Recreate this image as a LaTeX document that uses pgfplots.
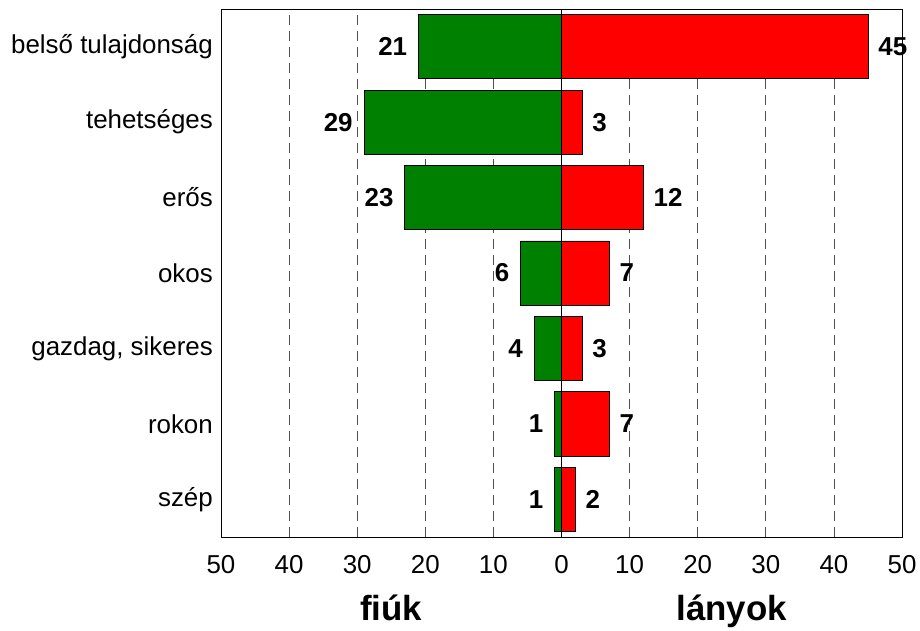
\documentclass[border=0pt]{standalone}
\usepackage{fontspec}
\setmainfont{Liberation Sans}
\usepackage{pgfplots}
\pgfplotsset{compat=1.18}
\definecolor{barGreen}{HTML}{008000}
\definecolor{barRed}{HTML}{FF0000}
\definecolor{gridGray}{HTML}{505050}
\begin{document}
\begin{tikzpicture}
\begin{axis}[
  scale only axis,
  width=681bp, height=528bp,
  xmin=-50, xmax=50, ymin=-0.5, ymax=6.5,
  xbar, bar width=0.85, bar shift=0pt,
  axis line style={black, line width=0.8pt},
  major tick length=0pt,
  xtick={-50,-40,...,50},
  xticklabels={50,40,30,20,10,0,10,20,30,40,50},
  ytick={0,1,2,3,4,5,6},
  yticklabels={szép,rokon,{gazdag, sikeres},okos,erős,tehetséges,belső tulajdonság},
  /pgf/number format/assume math mode=true,
  tick label style={font=\fontsize{26}{30}\selectfont},
  yticklabel style={inner sep=0pt, xshift=-8bp},
  xticklabel style={anchor=base, yshift=-36bp},
  xmajorgrids=true,
  grid style={gridGray, line width=0.8pt, dash pattern=on 10bp off 6bp},
  point meta=explicit symbolic,
  nodes near coords,
  nodes near coords style={font=\fontsize{26}{30}\selectfont\bfseries, inner sep=0pt},
  clip=false,
]
\addplot[draw=black, line width=0.8pt, fill=barGreen,
  every node near coord/.append style={anchor=east, xshift=-11bp}]
  coordinates {(-1,0) [1] (-1,1) [1] (-4,2) [4] (-6,3) [6] (-23,4) [23] (-29,5) [29] (-21,6) [21]};
\addplot[draw=black, line width=0.8pt, fill=barRed,
  every node near coord/.append style={anchor=west, xshift=10bp}]
  coordinates {(2,0) [2] (7,1) [7] (3,2) [3] (7,3) [7] (12,4) [12] (3,5) [3] (45,6) [45]};
\draw[black, line width=1.4pt] (axis cs:0,-0.5) -- (axis cs:0,6.5);
\node[font=\fontsize{35}{40}\selectfont\bfseries, anchor=base] at (axis cs:-25,-0.5) [yshift=-83bp] {fiúk};
\node[font=\fontsize{35}{40}\selectfont\bfseries, anchor=base] at (axis cs:25,-0.5) [yshift=-83bp] {lányok};
\end{axis}
\path (current axis.south west) ++(-221bp,-91bp);
\path (current axis.north east) ++(18bp,9bp);
\end{tikzpicture}
\end{document}
